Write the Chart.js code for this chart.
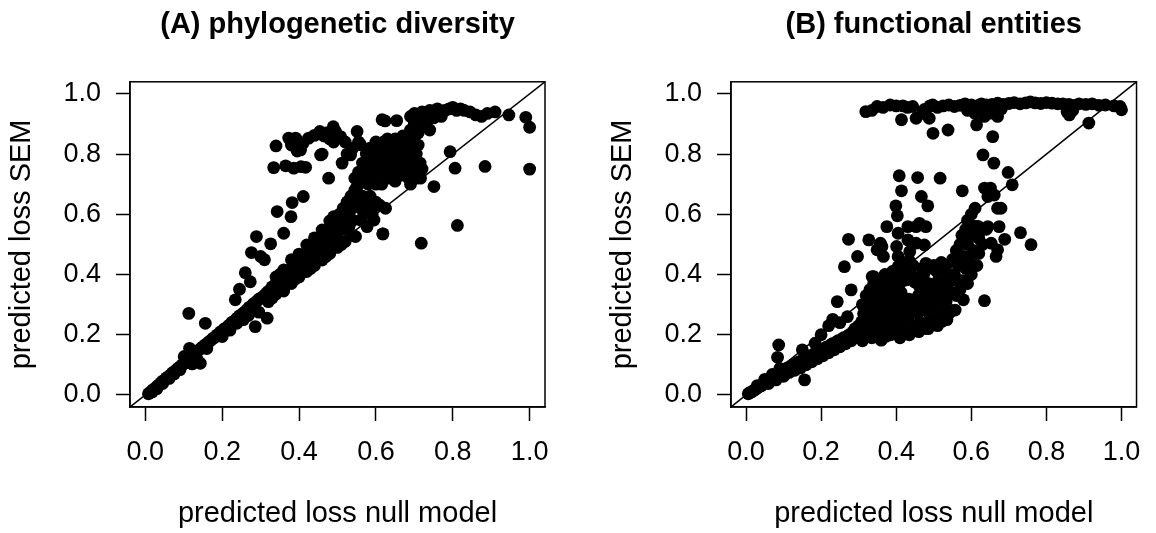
<!DOCTYPE html>
<html><head><meta charset="utf-8">
<script src="https://cdn.jsdelivr.net/npm/chart.js@4"></script>
<style>
html,body{margin:0;padding:0;background:#fff;overflow:hidden;}
#wrapA{position:absolute;left:0;top:0;width:578px;height:533px;}
#wrapB{position:absolute;left:601px;top:0;width:555px;height:533px;}
</style></head><body>
<div id="wrapA"><canvas id="cA" width="578" height="533"></canvas></div>
<div id="wrapB"><canvas id="cB" width="555" height="533"></canvas></div>
<script>
const tickValues = [0, 0.2, 0.4, 0.6, 0.8, 1.0];
const axisMin = -0.04, axisMax = 1.04;
const panelTitles = ['(A) phylogenetic diversity', '(B) functional entities'];
const xTitle = 'predicted loss null model';
const yTitle = 'predicted loss SEM';

// (A) phylogenetic diversity: [null model, SEM]
const phyloPoints = [
[0.008,0.004],[0.012,0.008],[0.016,0.012],[0.02,0.018],[0.025,0.021],[0.03,0.028],[0.034,0.032],[0.04,0.04],[0.045,0.046],[0.05,0.049],[0.055,0.057],[0.06,0.061],[0.066,0.066],[0.07,0.073],[0.075,0.077],[0.081,0.083],[0.085,0.089],[0.09,0.093],[0.095,0.099],[0.1,0.104],[0.104,0.111],[0.11,0.115],[0.114,0.121],[0.12,0.126],[0.03,0.021],[0.062,0.055],[0.09,0.084],[0.101,0.128],[0.115,0.155],[0.122,0.103],[0.135,0.118],[0.143,0.105],[0.018,0.01],[0.045,0.038],[0.075,0.07],
[0.125,0.135],[0.13,0.139],[0.136,0.146],[0.14,0.15],[0.146,0.156],[0.15,0.16],[0.155,0.166],[0.161,0.171],[0.165,0.176],[0.17,0.181],[0.176,0.188],[0.18,0.191],[0.186,0.199],[0.19,0.201],[0.195,0.209],[0.2,0.211],[0.205,0.219],[0.21,0.222],[0.216,0.229],[0.22,0.233],[0.225,0.241],[0.23,0.244],[0.236,0.251],[0.24,0.256],[0.245,0.263],[0.25,0.265],[0.256,0.273],[0.26,0.277],[0.265,0.283],[0.27,0.291],[0.276,0.294],[0.28,0.301],[0.285,0.306],[0.29,0.311],[0.295,0.318],[0.3,0.321],[0.16,0.154],[0.2,0.194],[0.238,0.238],[0.268,0.264],[0.286,0.227],[0.317,0.255],[0.295,0.275],[0.255,0.25],[0.22,0.215],
[0.305,0.325],[0.31,0.331],[0.315,0.338],[0.32,0.344],[0.326,0.35],[0.33,0.359],[0.335,0.356],[0.34,0.37],[0.345,0.376],[0.35,0.381],[0.355,0.389],[0.36,0.386],[0.365,0.398],[0.37,0.405],[0.375,0.411],[0.38,0.419],[0.386,0.416],[0.39,0.43],[0.395,0.436],[0.4,0.441],[0.405,0.449],[0.41,0.446],[0.415,0.459],[0.42,0.466],[0.425,0.471],[0.43,0.479],[0.436,0.476],[0.44,0.49],[0.445,0.499],[0.45,0.496],[0.455,0.509],[0.46,0.519],[0.465,0.516],[0.47,0.531],[0.475,0.539],[0.48,0.549],[0.485,0.546],[0.49,0.561],[0.495,0.571],[0.5,0.58],
[0.33,0.322],[0.35,0.352],[0.37,0.379],[0.39,0.398],[0.4,0.412],[0.41,0.421],[0.42,0.432],[0.43,0.442],[0.44,0.452],[0.45,0.462],[0.46,0.473],[0.47,0.484],[0.48,0.502],[0.49,0.521],[0.38,0.449],[0.4,0.468],[0.42,0.498],[0.44,0.522],[0.46,0.548],[0.48,0.578],[0.34,0.392],[0.35,0.4],[0.36,0.415],[0.32,0.31],[0.34,0.335],
[0.36,0.345],[0.38,0.37],[0.4,0.392],[0.42,0.41],[0.44,0.43],[0.46,0.448],[0.48,0.47],[0.5,0.49],[0.52,0.51],[0.54,0.53],[0.47,0.46],[0.43,0.42],[0.39,0.385],[0.51,0.5],
[0.5,0.52],[0.505,0.6],[0.51,0.552],[0.515,0.62],[0.52,0.58],[0.525,0.641],[0.53,0.598],[0.535,0.66],[0.54,0.622],[0.545,0.68],[0.55,0.64],[0.555,0.7],[0.49,0.592],[0.543,0.626],[0.56,0.581],[0.577,0.559],[0.595,0.581],[0.547,0.526],[0.625,0.62],[0.618,0.535],[0.565,0.66],[0.57,0.6],[0.58,0.62],[0.585,0.66],[0.59,0.6],[0.6,0.64],[0.61,0.63],[0.52,0.55],[0.53,0.56],[0.56,0.62],[0.51,0.58],[0.53,0.63],[0.55,0.67],[0.54,0.58],[0.57,0.64],
[0.545,0.72],[0.55,0.69],[0.555,0.74],[0.56,0.71],[0.565,0.77],[0.57,0.73],[0.575,0.8],[0.58,0.75],[0.585,0.82],[0.59,0.71],[0.595,0.78],[0.6,0.84],[0.605,0.74],[0.61,0.8],[0.615,0.7],[0.62,0.77],[0.625,0.83],[0.63,0.72],[0.635,0.79],[0.64,0.75],[0.645,0.82],[0.65,0.71],[0.655,0.77],[0.66,0.84],[0.665,0.73],[0.67,0.8],[0.675,0.76],[0.68,0.82],[0.685,0.72],[0.69,0.78],[0.695,0.85],[0.7,0.74],[0.705,0.8],[0.71,0.83],[0.715,0.77],[0.72,0.75],[0.6,0.7],[0.62,0.73],[0.64,0.78],[0.66,0.74],[0.58,0.79],[0.6,0.76],[0.63,0.85],[0.67,0.86],[0.69,0.7],[0.705,0.72],[0.716,0.72],
[0.555,0.715],[0.57,0.76],[0.59,0.745],[0.605,0.81],[0.615,0.76],[0.63,0.8],[0.645,0.74],[0.66,0.8],[0.68,0.77],[0.7,0.8],[0.62,0.84],[0.65,0.85],[0.675,0.84],[0.69,0.75],[0.58,0.7],[0.71,0.76],
[0.69,0.88],[0.7,0.9],[0.71,0.87],[0.72,0.91],[0.73,0.89],[0.74,0.88],[0.7,0.86],
[0.69,0.925],[0.7,0.935],[0.71,0.92],[0.72,0.94],[0.73,0.93],[0.74,0.945],[0.75,0.94],[0.76,0.95],[0.77,0.935],[0.78,0.945],[0.79,0.95],[0.8,0.955],[0.81,0.945],[0.82,0.95],[0.83,0.945],[0.845,0.94],[0.86,0.93],[0.875,0.925],[0.89,0.935],[0.91,0.94],[0.75,0.92],[0.77,0.925],[0.72,0.915],
[0.946,0.93],[0.99,0.922],[1.0,0.889],[0.616,0.914],[0.624,0.91],[0.654,0.911],
[0.334,0.755],[0.34,0.827],[0.365,0.761],[0.386,0.753],[0.405,0.758],[0.417,0.756],[0.373,0.853],[0.38,0.83],[0.385,0.845],[0.391,0.853],[0.395,0.81],[0.4,0.84],[0.404,0.814],[0.41,0.835],[0.425,0.853],[0.44,0.862],[0.454,0.875],[0.456,0.797],[0.46,0.8],[0.465,0.86],[0.47,0.87],[0.477,0.72],[0.489,0.891],[0.495,0.875],[0.5,0.86],[0.508,0.858],[0.512,0.77],[0.52,0.84],[0.525,0.8],[0.534,0.797],[0.54,0.82],[0.551,0.875],[0.555,0.84],[0.56,0.831],[0.48,0.85],[0.49,0.84],
[0.113,0.271],[0.156,0.238],[0.234,0.316],[0.245,0.351],[0.26,0.406],[0.273,0.376],[0.276,0.473],[0.289,0.526],[0.31,0.449],[0.3,0.46],[0.326,0.502],[0.343,0.609],[0.36,0.537],[0.379,0.592],[0.382,0.639],[0.411,0.659],
[0.751,0.692],[0.793,0.808],[0.806,0.753],[0.884,0.759],[1.0,0.75],[0.812,0.563],[0.718,0.504],[0.618,0.535]
];

// (B) functional entities: [null model, SEM]
const funcPoints = [
[0.006,0.004],[0.01,0.008],[0.015,0.01],[0.02,0.015],[0.025,0.018],[0.03,0.023],[0.035,0.028],[0.04,0.03],[0.045,0.035],[0.05,0.041],[0.055,0.042],[0.06,0.048],[0.065,0.051],[0.07,0.056],[0.075,0.06],[0.08,0.064],[0.085,0.07],[0.09,0.072],[0.095,0.078],[0.1,0.081],[0.03,0.031],[0.05,0.052],[0.07,0.068],[0.09,0.088],[0.06,0.038],[0.08,0.05],[0.1,0.062],
[0.105,0.085],[0.11,0.09],[0.115,0.075],[0.12,0.095],[0.125,0.1],[0.13,0.082],[0.135,0.105],[0.14,0.11],[0.145,0.09],[0.15,0.115],[0.155,0.12],[0.16,0.1],[0.165,0.125],[0.17,0.13],[0.175,0.11],[0.18,0.135],[0.185,0.14],[0.19,0.12],[0.195,0.145],[0.2,0.15],[0.205,0.13],[0.21,0.155],[0.215,0.16],[0.22,0.14],[0.225,0.165],[0.23,0.17],[0.235,0.15],[0.24,0.175],[0.245,0.18],[0.25,0.16],[0.255,0.185],[0.26,0.19],[0.265,0.17],[0.27,0.195],[0.275,0.2],[0.28,0.18],[0.285,0.21],[0.29,0.22],[0.295,0.19],[0.3,0.23],[0.15,0.15],[0.184,0.172],[0.2,0.2],[0.156,0.05],[0.22,0.23],[0.25,0.24],[0.27,0.26],
[0.31,0.18],[0.312,0.212],[0.308,0.243],[0.313,0.27],[0.31,0.3],
[0.335,0.19],[0.333,0.223],[0.337,0.25],[0.334,0.281],[0.336,0.31],[0.332,0.33],
[0.36,0.182],[0.362,0.21],[0.358,0.242],[0.361,0.268],[0.36,0.3],[0.363,0.33],[0.359,0.352],
[0.385,0.2],[0.387,0.228],[0.383,0.262],[0.386,0.29],[0.384,0.32],[0.388,0.35],[0.385,0.378],
[0.41,0.19],[0.412,0.222],[0.408,0.25],[0.411,0.28],[0.409,0.31],[0.413,0.34],[0.41,0.37],[0.408,0.4],
[0.435,0.2],[0.437,0.232],[0.433,0.26],[0.436,0.29],[0.434,0.318],[0.437,0.4],[0.433,0.42],
[0.46,0.21],[0.462,0.24],[0.458,0.272],[0.461,0.3],[0.459,0.33],[0.462,0.36],[0.458,0.39],
[0.485,0.22],[0.487,0.25],[0.483,0.28],[0.486,0.31],[0.484,0.34],[0.487,0.37],
[0.51,0.23],[0.512,0.26],[0.508,0.29],[0.511,0.32],[0.509,0.35],[0.512,0.38],[0.508,0.41],
[0.535,0.25],[0.537,0.28],[0.533,0.31],[0.536,0.34],[0.534,0.37],[0.537,0.4],[0.533,0.43],
[0.322,0.2],[0.323,0.26],[0.348,0.205],[0.347,0.265],[0.349,0.325],[0.373,0.195],[0.372,0.255],[0.374,0.315],[0.373,0.365],[0.398,0.21],[0.397,0.27],[0.399,0.33],[0.398,0.39],[0.423,0.205],[0.422,0.265],[0.424,0.305],[0.422,0.41],[0.448,0.215],[0.447,0.28],[0.449,0.375],[0.473,0.22],[0.472,0.285],[0.474,0.345],[0.473,0.4],[0.498,0.235],[0.497,0.3],[0.499,0.36],[0.498,0.42],[0.523,0.245],[0.522,0.305],[0.524,0.365],[0.523,0.42],[0.548,0.28],[0.547,0.34],[0.549,0.38],
[0.33,0.35],[0.34,0.37],[0.355,0.38],[0.37,0.4],[0.39,0.41],[0.41,0.43],[0.425,0.44],[0.445,0.43],[0.47,0.42],[0.5,0.43],[0.52,0.44],[0.32,0.33],
[0.55,0.45],[0.56,0.48],[0.57,0.5],[0.575,0.53],[0.585,0.55],[0.59,0.58],[0.6,0.6],[0.61,0.62],[0.555,0.4],[0.565,0.43],[0.58,0.46],[0.59,0.5],[0.6,0.53],[0.61,0.56],[0.575,0.38],[0.585,0.42],[0.595,0.45],[0.605,0.48],[0.62,0.52],[0.557,0.282],[0.579,0.316],[0.56,0.33],[0.57,0.35],[0.6,0.4],[0.59,0.37],[0.615,0.43],[0.62,0.47],[0.63,0.5],[0.64,0.55],[0.618,0.56],[0.627,0.548],[0.54,0.393],[0.497,0.249],[0.54,0.27],
[0.635,0.313],
[0.087,0.166],[0.084,0.125],[0.231,0.251],[0.243,0.31],[0.28,0.349],[0.262,0.426],[0.273,0.517],[0.297,0.46],[0.327,0.515],[0.34,0.393],[0.362,0.493],[0.375,0.559],[0.399,0.628],[0.403,0.595],[0.405,0.537],[0.408,0.728],[0.414,0.678],[0.457,0.722],[0.467,0.659],[0.484,0.628],[0.517,0.72],[0.431,0.559],[0.479,0.559],[0.576,0.678],
[0.358,0.504],[0.349,0.482],[0.366,0.46],[0.336,0.393],[0.358,0.382],[0.401,0.493],[0.405,0.46],[0.431,0.515],[0.436,0.476],[0.453,0.504],[0.462,0.57],[0.453,0.559],[0.475,0.498],[0.479,0.437],[0.405,0.426],[0.436,0.443],[0.444,0.393],[0.427,0.382],[0.412,0.404],
[0.498,0.869],[0.538,0.88],[0.614,0.897],[0.635,0.925],[0.67,0.925],[0.653,0.936],[0.657,0.858],[0.631,0.797],[0.66,0.77],[0.698,0.739],[0.709,0.698],[0.651,0.687],[0.661,0.664],[0.67,0.62],[0.679,0.62],[0.674,0.559],[0.653,0.504],[0.67,0.482],[0.666,0.46],[0.689,0.517],[0.731,0.539],[0.759,0.499],[0.635,0.687],[0.644,0.659],[0.644,0.559],
[0.319,0.941],[0.335,0.945],[0.349,0.958],[0.365,0.955],[0.384,0.963],[0.4,0.96],[0.418,0.96],[0.43,0.955],[0.444,0.958],[0.414,0.914],[0.453,0.919],[0.475,0.948],[0.49,0.96],[0.497,0.963],[0.488,0.919],[0.51,0.955],[0.525,0.96],[0.54,0.963],[0.555,0.958],[0.57,0.962],[0.583,0.967],[0.6,0.963],[0.615,0.96],[0.627,0.967],[0.64,0.963],[0.655,0.965],[0.67,0.969],[0.685,0.965],[0.7,0.968],[0.714,0.971],[0.73,0.967],[0.745,0.97],[0.757,0.973],[0.77,0.97],[0.785,0.968],[0.8,0.971],[0.815,0.969],[0.83,0.967],[0.844,0.967],[0.86,0.965],[0.875,0.962],[0.887,0.967],[0.905,0.965],[0.922,0.967],[0.94,0.962],[0.957,0.963],[0.98,0.96],[0.996,0.958],[1.0,0.947],[0.861,0.93],[0.855,0.94],[0.913,0.903],[0.47,0.935],[0.61,0.935],[0.63,0.94],[0.59,0.945],[0.65,0.94],[0.68,0.95],[0.87,0.945]
];

const FONT = "'Liberation Sans', Arial, Helvetica, sans-serif";

const boxPlugin = {
  id: 'box',
  afterDraw(chart) {
    const a = chart.chartArea, ctx = chart.ctx;
    ctx.save();
    ctx.strokeStyle = '#000';
    ctx.lineWidth = 1.5;
    ctx.strokeRect(a.left, a.top, a.right - a.left, a.bottom - a.top);
    ctx.restore();
  }
};

function axisOpts(isX) {
  return {
    type: 'linear',
    min: axisMin, max: axisMax,
    afterBuildTicks: s => { s.ticks = tickValues.map(v => ({ value: v })); },
    afterFit: s => { if (isX) s.height = 126; else s.width = 130; },
    grid: { drawOnChartArea: false, drawTicks: true, tickLength: 14, tickWidth: 1.5, tickColor: '#000', color: '#000' },
    border: { display: true, color: '#000', width: 1.5 },
    ticks: { color: '#000', font: { family: FONT, size: 27 }, padding: 15, maxRotation: 0, autoSkip: false,
             callback: v => Number(v).toFixed(1) },
    title: { display: true, text: isX ? xTitle : yTitle, color: '#000', font: { family: FONT, size: 29 },
             padding: isX ? { top: 0, bottom: 2 } : { top: 5, bottom: 0 } }
  };
}

function makeChart(id, title, pts, rightPad) {
  return new Chart(document.getElementById(id), {
    type: 'scatter',
    data: {
      datasets: [
        { type: 'line', data: [{ x: axisMin, y: axisMin }, { x: axisMax, y: axisMax }],
          borderColor: '#000', borderWidth: 1.5, pointRadius: 0, fill: false, order: 0 },
        { data: pts.map(p => ({ x: p[0], y: p[1] })), backgroundColor: '#000', borderColor: '#000',
          borderWidth: 0, pointRadius: 6.4, pointHoverRadius: 6.4, order: 1 }
      ]
    },
    options: {
      responsive: false, animation: false, devicePixelRatio: 1,
      layout: { padding: { left: 0, right: rightPad, top: 0, bottom: 0 } },
      plugins: {
        legend: { display: false }, tooltip: { enabled: false },
        title: { display: true, text: title, fullSize: false, color: '#000',
                 font: { family: FONT, size: 29, weight: 'bold' }, padding: { top: 8, bottom: 39 } }
      },
      scales: { x: axisOpts(true), y: axisOpts(false) }
    },
    plugins: [boxPlugin]
  });
}

makeChart('cA', panelTitles[0], phyloPoints, 33);
makeChart('cB', panelTitles[1], funcPoints, 10);
</script>
</body></html>
